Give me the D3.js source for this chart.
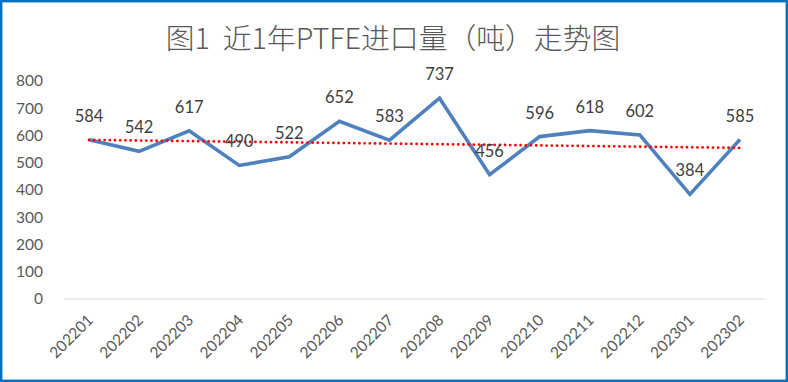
<!DOCTYPE html>
<html><head><meta charset="utf-8">
<script src="https://cdn.jsdelivr.net/npm/d3@7"></script>
<style>body{margin:0;background:#fff}svg{display:block}</style>
</head><body>
<svg id="c" width="788" height="382"></svg>
<script>
const categories = ["202201","202202","202203","202204","202205","202206","202207","202208","202209","202210","202211","202212","202301","202302"];
const values = [584,542,617,490,522,652,583,737,456,596,618,602,384,585];
const yTicks = [0,100,200,300,400,500,600,700,800];
const title = "图1  近1年PTFE进口量（吨）走势图";

const svg = d3.select("#c");
const W = 788, H = 382;
const m = {left:64, right:23, top:81, bottom:83};
const numFont = "Lato, 'Noto Sans', sans-serif";

svg.append("rect").attr("x",1.2).attr("y",1.2).attr("width",W-2.4).attr("height",H-2.4)
  .attr("fill","#fff").attr("stroke","#0070C0").attr("stroke-width",2.4);

svg.append("text").attr("x",393).attr("y",48.5).attr("text-anchor","middle")
  .attr("font-family","'Noto Sans CJK SC', sans-serif").attr("font-size",28.8).attr("font-weight",300)
  .attr("fill","#595959").style("white-space","pre").text(title);

const x = d3.scaleBand().domain(categories).range([m.left, W-m.right]);
const y = d3.scaleLinear().domain([0,800]).range([H-m.bottom, m.top]);

const yAxis = svg.append("g").attr("transform",`translate(${m.left},0)`)
  .call(d3.axisLeft(y).tickValues(yTicks).tickSize(0).tickPadding(21));
yAxis.select(".domain").remove();
yAxis.selectAll("text").attr("font-family",numFont).attr("font-size",15.5).attr("fill","#595959");

svg.append("line").attr("x1",m.left).attr("x2",W-m.right).attr("y1",y(0)).attr("y2",y(0))
  .attr("stroke","#d9d9d9").attr("stroke-width",1.2);

const xAxis = svg.append("g").attr("transform",`translate(0,${y(0)})`)
  .call(d3.axisBottom(x).tickSize(0));
xAxis.select(".domain").remove();
xAxis.selectAll("text").attr("font-family",numFont).attr("font-size",15.5).attr("fill","#595959")
  .attr("text-anchor","end").attr("dy",0)
  .attr("transform","translate(3,20) rotate(-45)");

const cx = d => x(d) + x.bandwidth()/2;

// linear trend
const n = values.length;
const xs = d3.range(1,n+1);
const mx = d3.mean(xs), my = d3.mean(values);
const slope = d3.sum(xs.map((v,i)=>(v-mx)*(values[i]-my))) / d3.sum(xs.map(v=>(v-mx)**2));
const icpt = my - slope*mx;

svg.append("path")
  .datum(categories)
  .attr("fill","none").attr("stroke","#4F81BD").attr("stroke-width",3.6)
  .attr("stroke-linejoin","miter")
  .attr("d", d3.line().x(d=>cx(d)).y((d,i)=>y(values[i])));

svg.append("line")
  .attr("x1",cx(categories[0])).attr("y1",y(icpt+slope*1))
  .attr("x2",cx(categories[n-1])).attr("y2",y(icpt+slope*n))
  .attr("stroke","#FF0000").attr("stroke-width",2.8).attr("stroke-linecap","round")
  .attr("stroke-dasharray","0,5.2");

svg.append("g").selectAll("text").data(categories).join("text")
  .attr("x",d=>cx(d)).attr("y",(d,i)=>y(values[i])-18)
  .attr("text-anchor","middle").attr("font-family",numFont).attr("font-size",16.5)
  .attr("fill","#404040").text((d,i)=>values[i]);
</script>
</body></html>
